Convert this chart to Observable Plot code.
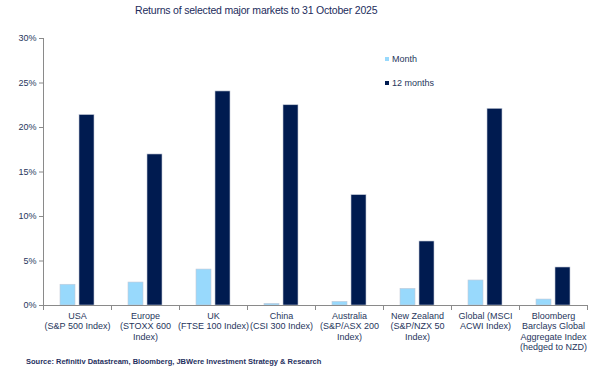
<!DOCTYPE html>
<html><head><meta charset="utf-8">
<script src="https://cdn.jsdelivr.net/npm/d3@7"></script>
<script src="https://cdn.jsdelivr.net/npm/@observablehq/plot@0.6"></script>
<style>
body{margin:0;background:#fff;font-family:"Liberation Sans",Arial,sans-serif;}
#wrap{position:relative;width:609px;height:376px;overflow:hidden;background:#fff}
#title{position:absolute;left:135px;top:4px;font-size:10.5px;letter-spacing:-0.2px;color:#1c2c5c;white-space:nowrap}
#chart{position:absolute;left:0;top:26px}
#legend{position:absolute;left:385px;top:53px;font-size:9px;color:#27365c}
#legend .row{display:flex;align-items:center;height:12px;margin-bottom:12px}
#legend .sw{width:4px;height:4px;margin-right:3px}
#source{position:absolute;left:26px;top:357px;font-size:7.5px;font-weight:bold;color:#1f3060;white-space:nowrap}
</style></head><body>
<div id="wrap">
 <div id="title">Returns of selected major markets to 31 October 2025</div>
 <div id="chart"></div>
 <div id="legend"></div>
 <div id="source">Source: Refinitiv Datastream, Bloomberg, JBWere Investment Strategy &amp; Research</div>
</div>
<script>
const categories = [
  "USA\n(S&P 500 Index)",
  "Europe\n(STOXX 600\nIndex)",
  "UK\n(FTSE 100 Index)",
  "China\n(CSI 300 Index)",
  "Australia\n(S&P/ASX 200\nIndex)",
  "New Zealand\n(S&P/NZX 50\nIndex)",
  "Global (MSCI\nACWI Index)",
  "Bloomberg\nBarclays Global\nAggregate Index\n(hedged to NZD)"
];
const series = ["Month", "12 months"];
const monthValues = [2.33, 2.58, 4.04, 0.19, 0.41, 1.87, 2.81, 0.67];
const yearValues = [21.4, 16.97, 24.05, 22.5, 12.4, 7.19, 22.1, 4.27];
const yTicks = [0, 5, 10, 15, 20, 25, 30];
const colors = ["#98d9fc", "#001b50"];

const rows = [];
categories.forEach((c, i) => {
  rows.push({cat: c, series: series[0], value: monthValues[i]});
  rows.push({cat: c, series: series[1], value: yearValues[i]});
});

const W = 609, H = 330, MT = 12, MB = 51, ML = 40, MR = 19;
const plotH = H - MT - MB;
const axisColor = "#8a8a8a";
const textColor = "#27365c";

const chart = Plot.plot({
  width: W, height: H, marginTop: MT, marginBottom: MB, marginLeft: ML, marginRight: MR,
  style: {fontFamily: "'Liberation Sans', Arial, sans-serif", fontSize: "9px", color: textColor, background: "white"},
  fx: {domain: categories, paddingInner: 0, paddingOuter: 0, label: null},
  x: {domain: series, paddingInner: 0.2, paddingOuter: 0.865, axis: null},
  y: {domain: [0, 30], label: null},
  color: {domain: series, range: colors},
  marks: [
    Plot.axisY({ticks: yTicks, tickSize: 4, tickPadding: 3, tickFormat: d => d + "%", stroke: axisColor, fill: textColor, label: null}),
    Plot.axisFx({anchor: "bottom", tickSize: 0, tickPadding: 6, lineHeight: 1.15, label: null, fill: textColor}),
    Plot.barY(rows, {fx: "cat", x: "series", y: "value", fill: "series", stroke: "#c3cad8", strokeWidth: 0.6}),
    Plot.ruleY([0], {stroke: axisColor}),
    Plot.frame({anchor: "left", facetAnchor: "left", stroke: axisColor}),
    Plot.frame({anchor: "left", insetTop: plotH, insetBottom: -4, stroke: axisColor}),
    Plot.frame({anchor: "right", facetAnchor: "right", insetTop: plotH, insetBottom: -4, stroke: axisColor})
  ]
});
document.getElementById("chart").appendChild(chart);

const legend = document.getElementById("legend");
series.forEach((s, i) => {
  const row = document.createElement("div");
  row.className = "row";
  const sw = document.createElement("span");
  sw.className = "sw";
  sw.style.background = colors[i];
  const t = document.createElement("span");
  t.textContent = s;
  row.appendChild(sw); row.appendChild(t);
  legend.appendChild(row);
});
</script>
</body></html>
